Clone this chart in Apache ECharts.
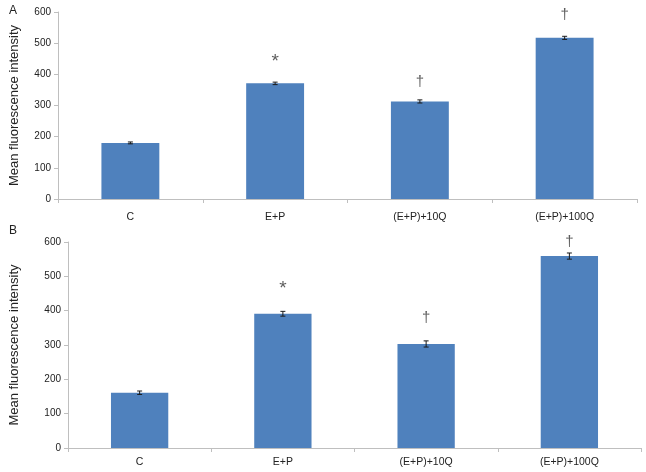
<!DOCTYPE html>
<html>
<head>
<meta charset="utf-8">
<script src="https://cdn.jsdelivr.net/npm/echarts@6/dist/echarts.min.js"></script>
<style>html,body{margin:0;padding:0;background:#fff}#c{width:646px;height:472px}</style>
</head>
<body>
<div id="c"></div>
<script>
const categories = ['C', 'E+P', '(E+P)+10Q', '(E+P)+100Q'];
const yTicks = [0, 100, 200, 300, 400, 500, 600];
const valuesA = [180, 371, 313, 517];
const errorsA = [3, 4, 5, 5];
const marksA = ['', '*', '†', '†'];
const markPosA = [null, 440, 375, 592];
const valuesB = [161, 391, 303, 559];
const errorsB = [5, 7, 9, 9];
const marksB = ['', '*', '†', '†'];
const markPosB = [null, 465, 380, 600];

const FONT = 'Liberation Sans, Arial, sans-serif';
const BAR = '#4F81BD';
const AXIS = '#BFBFBF';

function errSeries(idx, vals, errs) {
  return {
    type: 'custom', xAxisIndex: idx, yAxisIndex: idx, z: 5,
    data: vals.map((v, i) => [i, v - errs[i], v + errs[i]]),
    renderItem: function (params, api) {
      const lo = api.coord([api.value(0), api.value(1)]);
      const hi = api.coord([api.value(0), api.value(2)]);
      const w = 2.5;
      const st = { stroke: '#1a1a1a', lineWidth: 1 };
      return { type: 'group', children: [
        { type: 'line', shape: { x1: lo[0], y1: lo[1], x2: hi[0], y2: hi[1] }, style: st },
        { type: 'line', shape: { x1: lo[0] - w, y1: lo[1], x2: lo[0] + w, y2: lo[1] }, style: st },
        { type: 'line', shape: { x1: hi[0] - w, y1: hi[1], x2: hi[0] + w, y2: hi[1] }, style: st }
      ]};
    }
  };
}
function markSeries(idx, pos, marks) {
  return {
    type: 'scatter', xAxisIndex: idx, yAxisIndex: idx, symbolSize: 1, itemStyle: { color: 'rgba(0,0,0,0)' },
    data: pos.map((p, i) => p == null ? null : { value: [i, p], label: { show: true, formatter: marks[i], position: 'inside', color: '#333', fontSize: marks[i] === '*' ? 19 : 15, fontFamily: FONT } }).filter(d => d)
  };
}
function xAx(idx, fs, margin) {
  return { type: 'category', gridIndex: idx, data: categories,
    axisLine: { lineStyle: { color: AXIS } },
    axisTick: { show: true, lineStyle: { color: AXIS }, length: 4, alignWithLabel: false },
    axisLabel: { color: '#222', fontSize: fs, fontFamily: FONT, margin: margin } };
}
function yAx(idx, gap, nfs) {
  return { type: 'value', gridIndex: idx, min: 0, max: 600, interval: 100,
    name: 'Mean fluorescence intensity', nameLocation: 'middle', nameGap: gap,
    nameTextStyle: { color: '#222', fontSize: nfs, fontFamily: FONT },
    axisLine: { show: true, lineStyle: { color: AXIS } },
    axisTick: { show: true, lineStyle: { color: AXIS }, length: 4 },
    splitLine: { show: false },
    axisLabel: { color: '#222', fontSize: 10, fontFamily: FONT, margin: 7,
      formatter: v => yTicks.includes(v) ? String(v) : '' } };
}
const chart = echarts.init(document.getElementById('c'), null, { renderer: 'canvas' });
chart.setOption({
  animation: false,
  backgroundColor: '#fff',
  title: [
    { text: 'A', left: 4, top: 0, textStyle: { fontSize: 12, fontWeight: 'normal', color: '#222', fontFamily: FONT } },
    { text: 'B', left: 4, top: 220, textStyle: { fontSize: 12, fontWeight: 'normal', color: '#222', fontFamily: FONT } }
  ],
  grid: [
    { left: 53, right: 9, top: 12, height: 187 },
    { left: 59, right: 5, top: 242, height: 206 }
  ],
  xAxis: [xAx(0, 10.5, 13), xAx(1, 10.5, 9)],
  yAxis: [yAx(0, 37, 13), yAx(1, 47, 13)],
  series: [
    { type: 'bar', xAxisIndex: 0, yAxisIndex: 0, data: valuesA, barWidth: '40%', itemStyle: { color: BAR } },
    errSeries(0, valuesA, errorsA),
    markSeries(0, markPosA, marksA),
    { type: 'bar', xAxisIndex: 1, yAxisIndex: 1, data: valuesB, barWidth: '40%', itemStyle: { color: BAR } },
    errSeries(1, valuesB, errorsB),
    markSeries(1, markPosB, marksB)
  ]
});
</script>
</body>
</html>
